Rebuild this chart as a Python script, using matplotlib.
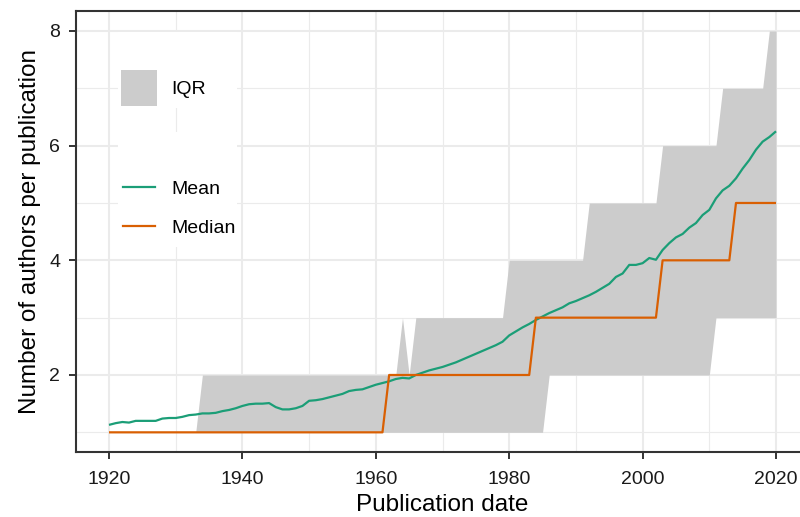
import numpy as np
import matplotlib
matplotlib.use("Agg")
import matplotlib.pyplot as plt
from matplotlib.patches import Patch, Rectangle
from matplotlib.lines import Line2D

plt.rcParams['font.family'] = ['Liberation Sans', 'DejaVu Sans']

# data
years = np.arange(1920, 2021)

mean_authors = [
    1.13, 1.16, 1.18, 1.17, 1.20, 1.20, 1.20, 1.20, 1.24, 1.25,   # 1920s
    1.25, 1.27, 1.30, 1.31, 1.33, 1.33, 1.34, 1.37, 1.39, 1.42,   # 1930s
    1.46, 1.49, 1.50, 1.50, 1.51, 1.44, 1.40, 1.40, 1.42, 1.46,   # 1940s
    1.55, 1.56, 1.58, 1.61, 1.64, 1.67, 1.72, 1.74, 1.75, 1.79,   # 1950s
    1.83, 1.86, 1.89, 1.93, 1.95, 1.94, 2.00, 2.04, 2.08, 2.11,   # 1960s
    2.14, 2.18, 2.22, 2.27, 2.32, 2.37, 2.42, 2.47, 2.52, 2.58,   # 1970s
    2.69, 2.76, 2.83, 2.89, 2.96, 3.02, 3.08, 3.13, 3.18, 3.25,   # 1980s
    3.29, 3.34, 3.39, 3.45, 3.52, 3.59, 3.71, 3.77, 3.92, 3.92,   # 1990s
    3.95, 4.04, 4.01, 4.18, 4.30, 4.40, 4.46, 4.57, 4.65, 4.79,   # 2000s
    4.88, 5.08, 5.22, 5.30, 5.43, 5.60, 5.75, 5.93, 6.07, 6.15,   # 2010s
    6.25,                                                         # 2020
]

median_authors = [1] * 42 + [2] * 22 + [3] * 19 + [4] * 11 + [5] * 7   # 1920-1961, 1962-1983, ...

q1_authors = [1] * 66 + [2] * 25 + [3] * 10            # 1920-1985, 1986-2010, 2011-2020

q3_authors = ([1] * 14 + [2] * 30 + [3, 2] + [3] * 14 + [4] * 12
              + [5] * 11 + [6] * 9 + [7] * 7 + [8] * 2)

col_mean = '#1B9E77'
col_median = '#D95F02'
col_iqr = '#CCCCCC'
col_grid = '#EBEBEB'
col_axis = '#333333'

W, H = 800, 517
fig = plt.figure(figsize=(8, 5.17), dpi=100)

def fx(px):
    return px / W

def fy(py):
    return 1 - py / H

ax = fig.add_axes([fx(75.65), fy(452.4), (809.35 - 75.65) / W, (452.4 - 10.9) / H])

ax.fill_between(years, q1_authors, q3_authors, color=col_iqr, lw=0, zorder=2)
ax.plot(years, mean_authors, color=col_mean, lw=1.6, zorder=3, solid_capstyle='butt')
ax.plot(years, median_authors, color=col_median, lw=1.6, zorder=4, solid_capstyle='butt')

ax.set_xlim(1915, 2025)
ax.set_ylim(0.65, 8.35)
ax.set_xticks(np.arange(1920, 2021, 20))
ax.set_xticks(np.arange(1930, 2021, 20), minor=True)
ax.set_yticks([2, 4, 6, 8])
ax.set_yticks([1, 3, 5, 7], minor=True)

ax.set_axisbelow(True)
ax.grid(True, which='major', color=col_grid, lw=1.5)
ax.grid(True, which='minor', color=col_grid, lw=0.8)

for sp in ax.spines.values():
    sp.set_color(col_axis)
    sp.set_linewidth(1.5)

ax.tick_params(axis='both', which='major', length=5.2, width=1.4, color=col_axis,
               labelsize=14, labelcolor='#1a1a1a')
ax.tick_params(axis='x', which='major', pad=8.4)
ax.tick_params(axis='y', which='major', pad=6.0)
ax.tick_params(axis='both', which='minor', length=0)

ax.set_xlabel('Publication date', fontsize=17.5, color='black')
ax.set_ylabel('Number of authors per publication', fontsize=17.5, color='black')
ax.xaxis.set_label_coords(0.5, (452.4 - 494) / (452.4 - 10.9))
ax.yaxis.set_label_coords((41.5 - 75.65) / (809.35 - 75.65), 0.5)

# legend backgrounds
for top, bot in [(32, 108), (132, 247)]:
    ax.add_patch(Rectangle((fx(118), fy(bot)), (237 - 118) / W, (bot - top) / H,
                           transform=fig.transFigure, facecolor='white',
                           edgecolor='none', zorder=1))

leg1 = ax.legend(handles=[Patch(facecolor=col_iqr, edgecolor='none')], labels=['IQR'],
                 loc='upper left', bbox_to_anchor=(fx(121), fy(70)),
                 bbox_transform=fig.transFigure, frameon=False, fontsize=14,
                 handlelength=1.85, handleheight=2.47, handletextpad=0.72,
                 borderpad=0, borderaxespad=0)
ax.add_artist(leg1)

leg2 = ax.legend(handles=[Line2D([], [], color=col_mean, lw=1.6),
                          Line2D([], [], color=col_median, lw=1.6)],
                 labels=['Mean', 'Median'],
                 loc='upper left', bbox_to_anchor=(fx(122.7), fy(180)),
                 bbox_transform=fig.transFigure, frameon=False, fontsize=14,
                 handlelength=1.66, handletextpad=0.82, labelspacing=1.12,
                 borderpad=0, borderaxespad=0)

fig.savefig('out.png', dpi=100)
